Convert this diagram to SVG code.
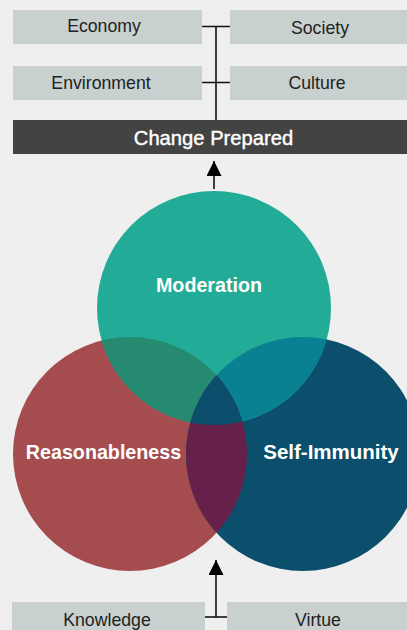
<svg xmlns="http://www.w3.org/2000/svg" width="407" height="630" viewBox="0 0 407 630">
  <style>
    .box { fill: #c8d1cf; }
    .lbl { font-family: "Liberation Sans", Arial, sans-serif; font-size: 17.7px; fill: #222; text-anchor: middle; }
    .bar { fill: #434343; }
    .barlbl { font-family: "Liberation Sans", Arial, sans-serif; font-size: 20.2px; fill: #fff; stroke: #fff; stroke-width: 0.4; text-anchor: middle; }
    .clbl { font-family: "Liberation Sans", Arial, sans-serif; font-size: 19.7px; font-weight: bold; fill: #fff; text-anchor: middle; }
    .wire { stroke: #111; stroke-width: 1.6; fill: none; }
  </style>
  <defs>
    <marker id="head" viewBox="0 0 10 10" refX="10" refY="5" markerWidth="15" markerHeight="15" markerUnits="userSpaceOnUse" orient="auto">
      <path d="M0,0 L10,5 L0,10 Z" fill="#000"/>
    </marker>
    <clipPath id="clipR"><circle cx="130" cy="454" r="117"/></clipPath>
    <clipPath id="clipS"><circle cx="303" cy="454" r="117"/></clipPath>
  </defs>

  <rect width="407" height="630" fill="#efefef"/>

  <!-- outcome boxes -->
  <g id="economy"><rect class="box" x="13" y="10" width="189" height="34"/><text class="lbl" x="104" y="32">Economy</text></g>
  <g id="society"><rect class="box" x="230" y="10" width="177" height="34"/><text class="lbl" x="320" y="33.5">Society</text></g>
  <g id="environment"><rect class="box" x="13" y="66" width="189" height="34"/><text class="lbl" x="101" y="89">Environment</text></g>
  <g id="culture"><rect class="box" x="230" y="66" width="177" height="34"/><text class="lbl" x="317" y="89">Culture</text></g>

  <g id="change-prepared"><rect class="bar" x="13" y="120" width="394" height="34"/><text class="barlbl" x="213.5" y="144.5">Change Prepared</text></g>

  <!-- three overlapping principles -->
  <g id="reasonableness"><circle cx="130" cy="454" r="117" fill="#a54c4f"/></g>
  <g id="self-immunity"><circle cx="303" cy="454" r="117" fill="#0b4f6c"/></g>
  <g id="moderation"><circle cx="214" cy="308" r="117" fill="#22ab96"/></g>
  <g id="overlaps">
    <g clip-path="url(#clipR)"><circle cx="214" cy="308" r="117" fill="#268a70"/></g>
    <g clip-path="url(#clipS)"><circle cx="214" cy="308" r="117" fill="#0a8192"/></g>
    <g clip-path="url(#clipS)"><circle cx="130" cy="454" r="117" fill="#66214b"/></g>
    <g clip-path="url(#clipS)"><g clip-path="url(#clipR)"><circle cx="214" cy="308" r="117" fill="#0b4f6c"/></g></g>
  </g>
  <text class="clbl" x="209" y="292">Moderation</text>
  <text class="clbl" x="103.5" y="459">Reasonableness</text>
  <text class="clbl" x="331" y="459" style="font-size:20.5px">Self-Immunity</text>

  <!-- input boxes -->
  <g id="knowledge"><rect class="box" x="12" y="602" width="193" height="30"/><text class="lbl" x="107" y="626">Knowledge</text></g>
  <g id="virtue"><rect class="box" x="227" y="602" width="180" height="30"/><text class="lbl" x="318" y="626">Virtue</text></g>

  <!-- connectors -->
  <g id="connectors">
    <path class="wire" d="M216,26.5 V120 M202,26.5 H230 M202,82.5 H230"/>
    <path class="wire" d="M214,189 V161" marker-end="url(#head)"/>
    <path class="wire" d="M216,617 V560" marker-end="url(#head)"/>
    <path class="wire" d="M205,617 H227"/>
  </g>
</svg>
